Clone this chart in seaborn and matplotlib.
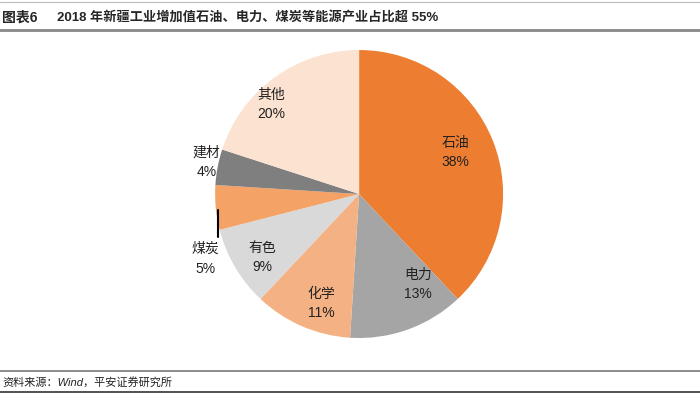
import matplotlib
matplotlib.use("Agg")
import matplotlib.pyplot as plt
import seaborn as sns
from matplotlib.lines import Line2D

sns.set_theme(style="white")
plt.rcParams['font.family'] = ['Liberation Sans', 'Noto Sans CJK SC', 'DejaVu Sans']

categories = ["石油", "电力", "化学", "有色", "煤炭", "建材", "其他"]
values = [38, 13, 11, 9, 5, 4, 20]
colors = ["#ED7D31", "#A5A5A5", "#F4B183", "#D9D9D9", "#F4A266", "#7F7F7F", "#FCE2D0"]
# label positions in pie-radius units (centre = 0,0)
label_pos = [(0.667, 0.29), (0.41, -0.63), (-0.26, -0.76), (-0.67, -0.44),
             (-1.07, -0.45), (-1.06, 0.22), (-0.61, 0.62)]

fig = plt.figure(figsize=(7, 3.96), dpi=100)
ax = fig.add_axes([0.513 - 0.2057, 0.51 - 0.3636, 0.4114, 0.7273])
ax.pie(values, colors=colors, startangle=90, counterclock=False,
       wedgeprops=dict(linewidth=0), radius=1)
ax.set_xlim(-1, 1)
ax.set_ylim(-1, 1)
ax.set_aspect("equal")

for name, v, (x, y) in zip(categories, values, label_pos):
    ax.text(x, y, f"{name}\n{v}%", ha="center", va="center", fontsize=10,
            color="#222222", linespacing=1.5, clip_on=False)

# leader line for 煤炭
ax.add_line(Line2D([-0.98, -0.98], [-0.11, -0.30], color="black", lw=1.5, clip_on=False))

# title and rules
fig.text(2 / 700, 1 - 18 / 396, "图表6", fontsize=10, fontweight="bold", ha="left", va="center")
fig.text(57 / 700, 1 - 18 / 396, "2018 年新疆工业增加值石油、电力、煤炭等能源产业占比超 55%",
         fontsize=9.5, fontweight="bold", ha="left", va="center")
fig.add_artist(Line2D([0, 1], [1 - 2 / 396] * 2, color="#BBBBBB", lw=0.8))
fig.add_artist(Line2D([0, 1], [1 - 30 / 396] * 2, color="#888888", lw=2.0))

fig.add_artist(Line2D([0, 1], [1 - 371 / 396] * 2, color="#777777", lw=1.2))
fig.text(2 / 700, 1 - 382 / 396, "资料来源：Wind，平安证券研究所", fontsize=8, style="italic",
         ha="left", va="center", color="#222222")
fig.add_artist(Line2D([0, 1], [1 - 392 / 396] * 2, color="#333333", lw=1.2))

fig.savefig("out.png", dpi=100)
